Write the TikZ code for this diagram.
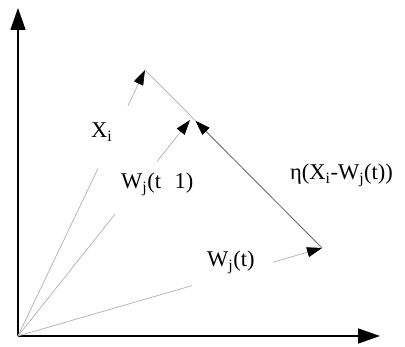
\documentclass[tikz,border=0pt]{standalone}
\usepackage{fontspec}
\setmainfont{Liberation Serif}
\usepackage{tikz}
\usetikzlibrary{
	arrows.meta,
	calc
}
\definecolor{VecGray}{RGB}{175,175,175}
\definecolor{StepGray}{RGB}{120,120,120}
\newcommand{\lowidx}[1]{\textsubscript{#1}}

\begin{document}
\begin{tikzpicture}[x=1pt, y=1pt,
		axis/.style={line width=1.6pt, -{Triangle[length=22pt, width=15pt]}},
		vec/.style={VecGray, line width=0.7pt},
		vectip/.style={VecGray, line width=0.7pt, -{Triangle[length=15pt, width=10pt, black]}},
		lbl/.style={font=\fontsize{22.5}{26}\selectfont, inner sep=0pt, anchor=base west}]
		\useasboundingbox (0,0) rectangle (405,347);
		
		\coordinate (O) at (18,11);
		\coordinate (Ytop) at (18,339);
		\coordinate (Xend) at (380,11);
		\coordinate (Xi) at (145,277);
		\coordinate (Wt) at (322,99);
		\coordinate (Wt1) at (190,227);
		\coordinate (Eta) at ($(Wt)!0.715!(Xi)$); % W(t+1) = W(t) + eta (X - W(t))
		
		\draw[axis] (O) -- (Ytop);
		\draw[axis] (O) -- (Xend);
		
		% vectors from the origin, broken where the labels sit
		\draw[vec] (O) -- ($(O)!0.63!(Xi)$);
		\draw[vectip] ($(O)!0.866!(Xi)$) -- (Xi);
		\draw[vec] (O) -- ($(O)!0.564!(Wt1)$);
		\draw[vectip] ($(O)!0.808!(Wt1)$) -- (Wt1);
		\draw[vec] (O) -- ($(O)!0.572!(Wt)$);
		\draw[vectip] ($(O)!0.839!(Wt)$) -- (Wt);
		
		\draw[vec] (Xi) -- (Eta);
		\draw[StepGray, line width=1pt, -{Triangle[length=15pt, width=10pt, black]}] (Wt) -- (Eta);
		
		\node[lbl] (lblXi) at (91,209) {X\lowidx{i}};
		\node[lbl] (lblWt1) at (121,158) {W\lowidx{j}(t\hspace{0.6em}1)};
		\node[lbl] (lblWt) at (207,80) {W\lowidx{j}(t)};
		\node[lbl] (lblEta) at (290,167) {η(X\lowidx{i}-W\lowidx{j}(t))};
	\end{tikzpicture}
\end{document}
